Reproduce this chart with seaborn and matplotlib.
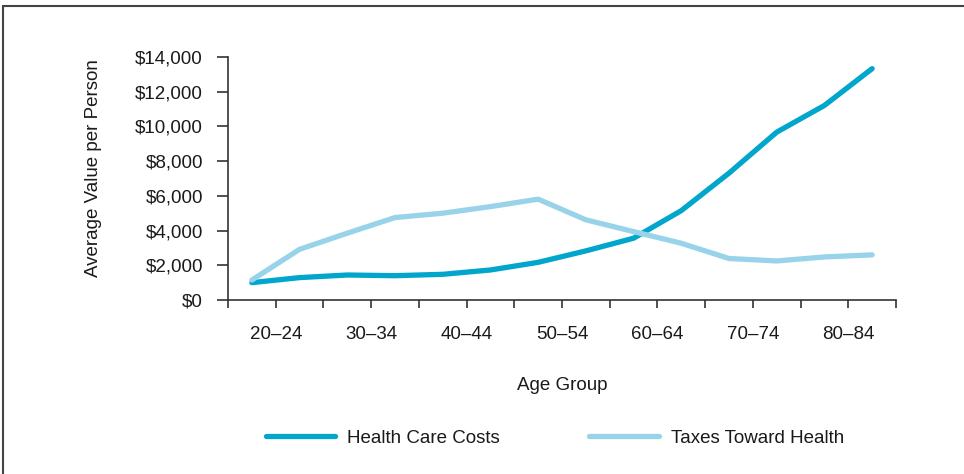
import matplotlib
matplotlib.use("Agg")
import matplotlib.pyplot as plt
from matplotlib.lines import Line2D
import seaborn as sns
import pandas as pd

age_groups = ["20–24", "25–29", "30–34", "35–39", "40–44", "45–49", "50–54",
              "55–59", "60–64", "65–69", "70–74", "75–79", "80–84", "85–89"]
health_care_costs = [1000, 1290, 1440, 1400, 1480, 1730, 2170,
                     2830, 3560, 5150, 7310, 9670, 11210, 13330]
taxes_toward_health = [1150, 2920, 3850, 4750, 5000, 5380, 5810,
                       4620, 3940, 3270, 2390, 2250, 2480, 2600]
series_names = ["Health Care Costs", "Taxes Toward Health"]
y_ticks = [0, 2000, 4000, 6000, 8000, 10000, 12000, 14000]
x_tick_labels = ["20–24", "30–34", "40–44", "50–54", "60–64", "70–74", "80–84"]

df = pd.concat([
    pd.DataFrame({"Age Group": age_groups, "Value": health_care_costs, "Series": series_names[0]}),
    pd.DataFrame({"Age Group": age_groups, "Value": taxes_toward_health, "Series": series_names[1]}),
])

sns.set_theme(style="white")
plt.rcParams["font.family"] = ["Liberation Sans", "DejaVu Sans"]
FS = 13.5

fig = plt.figure(figsize=(9.64, 4.74), dpi=100)
ax = fig.add_axes([228 / 964, 1 - 300 / 474, (896 - 228) / 964, (300 - 57) / 474])

palette = {series_names[0]: "#00a6cc", series_names[1]: "#98d3e9"}
sns.lineplot(data=df, x="Age Group", y="Value", hue="Series", palette=palette,
             linewidth=3.8, ax=ax, legend=False, sort=False)
for ln in ax.lines:
    ln.set_solid_capstyle("round")
    ln.set_solid_joinstyle("round")

n = len(age_groups)
ax.set_xlim(-0.5, n - 0.5)
ax.set_ylim(0, 14000)
tick_pos = [i - 0.5 for i in range(n + 1)]
labels = []
for k in range(n + 1):
    labels.append(x_tick_labels[k // 2] if k % 2 == 1 else "")
ax.set_xticks(tick_pos)
ax.set_xticklabels(labels)
ax.set_yticks(y_ticks)
ax.set_yticklabels([f"${v:,.0f}" for v in y_ticks])

for s in ["top", "right"]:
    ax.spines[s].set_visible(False)
for s in ["left", "bottom"]:
    ax.spines[s].set_color("#333333")
    ax.spines[s].set_linewidth(1.2)
ax.tick_params(axis="both", direction="out", width=1.2, color="#333333",
               labelsize=FS, labelcolor="#1a1a1a", bottom=True, left=True)
ax.tick_params(axis="x", length=6, pad=12.5)
ax.tick_params(axis="y", length=8, pad=10)

ax.set_xlabel("Age Group", fontsize=FS, color="#1a1a1a", labelpad=25)
ax.set_ylabel("Average Value per Person", fontsize=FS, color="#1a1a1a")
ax.yaxis.set_label_coords(-0.188, 0.545)
ax.grid(False)

handles = [Line2D([], [], color=palette[s], linewidth=3.8, solid_capstyle="round") for s in series_names]
fig.legend(handles, series_names, loc="center", bbox_to_anchor=(555 / 964, 1 - 438 / 474),
           ncol=2, frameon=False, fontsize=FS, handlelength=3.7, handletextpad=0.65,
           columnspacing=4.75, labelcolor="#1a1a1a")

# figure border (top and left)
fig.add_artist(Line2D([2.5 / 964, 1.0], [1 - 5.5 / 474, 1 - 5.5 / 474],
                      transform=fig.transFigure, color="#444444", linewidth=1.5))
fig.add_artist(Line2D([2.5 / 964, 2.5 / 964], [1 - 5.5 / 474, 0.0],
                      transform=fig.transFigure, color="#444444", linewidth=1.5))

fig.savefig("out.png", dpi=100)
